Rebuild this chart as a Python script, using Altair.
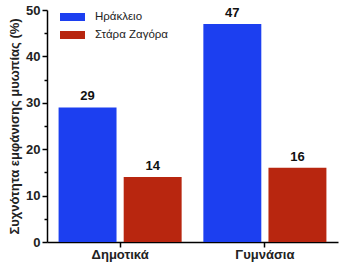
import altair as alt
import pandas as pd

schools = ["Δημοτικά", "Δημοτικά", "Γυμνάσια", "Γυμνάσια"]
cities = ["Ηράκλειο", "Στάρα Ζαγόρα", "Ηράκλειο", "Στάρα Ζαγόρα"]
values = [29, 14, 47, 16]
y_ticks = [0, 5, 10, 15, 20, 25, 30, 35, 40, 45, 50]

df = pd.DataFrame({"school": schools, "city": cities, "value": values})

school_order = ["Δημοτικά", "Γυμνάσια"]
city_order = ["Ηράκλειο", "Στάρα Ζαγόρα"]
colors = ["#1c3ff0", "#b8260f"]

FONT = "Liberation Sans"

x = alt.X("school:N", sort=school_order,
          scale=alt.Scale(paddingInner=0.15, paddingOuter=0.08),
          axis=alt.Axis(title=None, labelAngle=0, labelFontSize=13, labelFont=FONT,
                        labelFontWeight="bold", labelColor="#222", labelPadding=1,
                        tickSize=5, tickColor="black", domainColor="black",
                        domainWidth=1.5, tickWidth=1.5))
xo = alt.XOffset("city:N", sort=city_order, scale=alt.Scale(paddingInner=0.11))
y = alt.Y("value:Q", scale=alt.Scale(domain=[0, 50], nice=False),
          axis=alt.Axis(title="Συχνότητα εμφάνισης μυωπίας (%)", values=y_ticks, tickCount=20,
                        labelExpr="datum.value % 10 === 0 ? datum.label : ''",
                        titleFont=FONT, titleFontSize=13, titleFontWeight="bold", titleColor="#222",
                        titlePadding=4, labelFont=FONT, labelFontSize=13, labelFontWeight="bold",
                        labelColor="#222", labelPadding=2,
                        tickSize={"condition": {"test": "datum.value % 10 === 0", "value": 5}, "value": 3},
                        tickWidth=1.5,
                        tickColor="black", domainColor="black", domainWidth=1.5, grid=False,
                        labelOverlap=False))

bars = alt.Chart(df).mark_bar().encode(
    x=x, xOffset=xo, y=y,
    color=alt.Color("city:N", sort=city_order,
                    scale=alt.Scale(domain=city_order, range=colors),
                    legend=alt.Legend(title=None, orient="none", legendX=13, legendY=-5.5,
                                      symbolType="M-1,-0.32L1,-0.32L1,0.32L-1,0.32Z",
                                      symbolSize=625, symbolStrokeWidth=0, symbolOpacity=1,
                                      labelFont=FONT, labelFontSize=11.5, labelColor="#222",
                                      labelOffset=10, rowPadding=-10, padding=0)),
)

labels = alt.Chart(df).mark_text(baseline="bottom", dy=-4, font=FONT, fontSize=13,
                                 fontWeight="bold", color="#111").encode(
    x=x, xOffset=xo, y=alt.Y("value:Q"), text="value:Q"
)

chart = alt.layer(bars, labels).properties(
    width=291, height=232, autosize="none",
    padding={"left": 47, "top": 10, "right": 9, "bottom": 22}
).configure_view(stroke=None).configure_axis(labelFont=FONT)

chart.save("out.html", embed_options={"renderer": "svg", "actions": False})
